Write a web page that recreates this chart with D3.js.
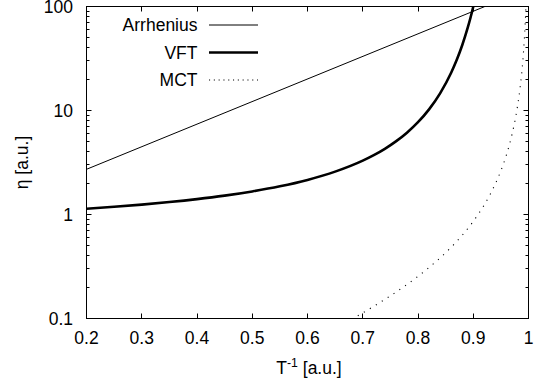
<!DOCTYPE html>
<html>
<head>
<meta charset="utf-8">
<script src="https://cdn.jsdelivr.net/npm/d3@7"></script>
<style>
  html, body { margin: 0; padding: 0; background: #fff; }
  svg { display: block; }
  text { font-family: "Liberation Sans", Arial, Helvetica, sans-serif; fill: #000; }
</style>
</head>
<body>
<svg id="chart" width="538" height="383"></svg>
<script>
// Inverse temperature (x) and viscosity (eta) for each model
const arrheniusX = [0.2, 0.921];
const arrheniusEta = [2.72, 100];

const vftX = [0.2, 0.25, 0.3, 0.35, 0.4, 0.45, 0.5, 0.55, 0.6, 0.65, 0.7, 0.72, 0.74, 0.76,
              0.78, 0.8, 0.82, 0.84, 0.86, 0.87, 0.88, 0.89, 0.895, 0.9, 0.901];
const vftEta = [1.136, 1.186, 1.245, 1.317, 1.406, 1.519, 1.667, 1.867, 2.152, 2.583, 3.295, 3.721, 4.282, 5.044,
                6.121, 7.721, 10.26, 14.63, 23.08, 30.56, 42.41, 62.49, 77.9, 99.4, 104.7];

const mctX = [0.68, 0.7, 0.72, 0.74, 0.76, 0.78, 0.8, 0.82, 0.84, 0.86, 0.88, 0.9, 0.92, 0.93,
              0.94, 0.95, 0.96, 0.97, 0.98, 0.985, 0.99, 0.993, 0.995, 0.9955];
const mctEta = [0.0985, 0.1133, 0.1311, 0.1527, 0.1792, 0.2123, 0.2544, 0.3093, 0.3826, 0.4841, 0.6315, 0.8586, 1.240, 1.540,
                1.972, 2.634, 3.739, 5.846, 10.91, 16.92, 31.33, 53.73, 89.27, 104.6];

const xTicks = [0.2, 0.3, 0.4, 0.5, 0.6, 0.7, 0.8, 0.9, 1.0];
const xTickLabels = ["0.2", "0.3", "0.4", "0.5", "0.6", "0.7", "0.8", "0.9", "1"];
const yTicks = [0.1, 1, 10, 100];
const yTickLabels = ["0.1", "1", "10", "100"];

const seriesNames = ["Arrhenius", "VFT", "MCT"];

const FONT = 17.5;
const plotLeft = 86.5, plotRight = 528.5, plotTop = 6.5, plotBottom = 318.5;

const svg = d3.select("#chart");

const x = d3.scaleLinear().domain([0.2, 1.0]).range([plotLeft, plotRight]);
const y = d3.scaleLog().domain([0.1, 100]).range([plotBottom, plotTop]);

// minor ticks on the log axis: 2..9 within each decade
const yMinor = [];
for (let d = 0; d < yTicks.length - 1; d++) {
  for (let m = 2; m <= 9; m++) yMinor.push(yTicks[d] * m);
}

svg.append("defs").append("clipPath").attr("id", "plotClip")
  .append("rect").attr("x", plotLeft).attr("y", plotTop)
  .attr("width", plotRight - plotLeft).attr("height", plotBottom - plotTop);

const snap = v => Math.round(v - 0.5) + 0.5;

// inward ticks on all four sides
const ticks = svg.append("g").attr("stroke", "#000").attr("stroke-width", 1);
xTicks.forEach(v => {
  const px = snap(x(v));
  ticks.append("line").attr("x1", px).attr("x2", px).attr("y1", plotBottom).attr("y2", plotBottom - 5);
  ticks.append("line").attr("x1", px).attr("x2", px).attr("y1", plotTop).attr("y2", plotTop + 5);
});
yTicks.forEach(v => {
  const py = snap(y(v));
  ticks.append("line").attr("x1", plotLeft).attr("x2", plotLeft + 5).attr("y1", py).attr("y2", py);
  ticks.append("line").attr("x1", plotRight).attr("x2", plotRight - 5).attr("y1", py).attr("y2", py);
});
yMinor.forEach(v => {
  const py = snap(y(v));
  ticks.append("line").attr("x1", plotLeft).attr("x2", plotLeft + 3).attr("y1", py).attr("y2", py);
  ticks.append("line").attr("x1", plotRight).attr("x2", plotRight - 3).attr("y1", py).attr("y2", py);
});

// tick labels
svg.append("g").selectAll("text").data(xTicks).join("text")
  .attr("x", d => x(d)).attr("y", 344)
  .attr("text-anchor", "middle").attr("font-size", FONT)
  .text((d, i) => xTickLabels[i]);

svg.append("g").selectAll("text").data(yTicks).join("text")
  .attr("x", 73).attr("y", d => y(d)).attr("dy", "0.36em")
  .attr("text-anchor", "end").attr("font-size", FONT)
  .text((d, i) => yTickLabels[i]);

// axis titles
const xTitle = svg.append("text").attr("x", 309).attr("y", 374)
  .attr("text-anchor", "middle").attr("font-size", FONT);
xTitle.append("tspan").text("T");
xTitle.append("tspan").attr("dy", -7).attr("font-size", FONT * 0.7).text("-1");
xTitle.append("tspan").attr("dy", 7).text(" [a.u.]");

svg.append("text")
  .attr("transform", `translate(28,${(plotTop + plotBottom) / 2}) rotate(-90)`)
  .attr("text-anchor", "middle").attr("font-size", FONT)
  .text("η [a.u.]");

// curves
const plot = svg.append("g").attr("clip-path", "url(#plotClip)");
const line = d3.line().x(d => x(d[0])).y(d => y(d[1]));
const smooth = d3.line().x(d => x(d[0])).y(d => y(d[1])).curve(d3.curveMonotoneX);

const styles = [
  { w: 1, dash: null },
  { w: 2.6, dash: null },
  { w: 1.1, dash: "1.1,5.9" }
];

plot.append("path").datum(d3.zip(arrheniusX, arrheniusEta))
  .attr("d", line).attr("fill", "none").attr("stroke", "#000")
  .attr("stroke-width", styles[0].w);

plot.append("path").datum(d3.zip(vftX, vftEta))
  .attr("d", smooth).attr("fill", "none").attr("stroke", "#000")
  .attr("stroke-width", styles[1].w);

plot.append("path").datum(d3.zip(mctX, mctEta))
  .attr("d", smooth).attr("fill", "none").attr("stroke", "#000")
  .attr("stroke-width", styles[2].w).attr("stroke-dasharray", styles[2].dash);

// legend
const legendY = [25, 52.5, 80];
const legend = svg.append("g");
seriesNames.forEach((name, i) => {
  legend.append("text").attr("x", 197.5).attr("y", legendY[i]).attr("dy", "0.36em")
    .attr("text-anchor", "end").attr("font-size", FONT).text(name);
  legend.append("line").attr("x1", 209).attr("x2", 258)
    .attr("y1", legendY[i]).attr("y2", legendY[i])
    .attr("stroke", "#000").attr("stroke-width", styles[i].w)
    .attr("stroke-dasharray", i === 2 ? "1.1,3.7" : null);
});

// frame
svg.append("rect").attr("x", plotLeft).attr("y", plotTop)
  .attr("width", plotRight - plotLeft).attr("height", plotBottom - plotTop)
  .attr("fill", "none").attr("stroke", "#000").attr("stroke-width", 1);
</script>
</body>
</html>
